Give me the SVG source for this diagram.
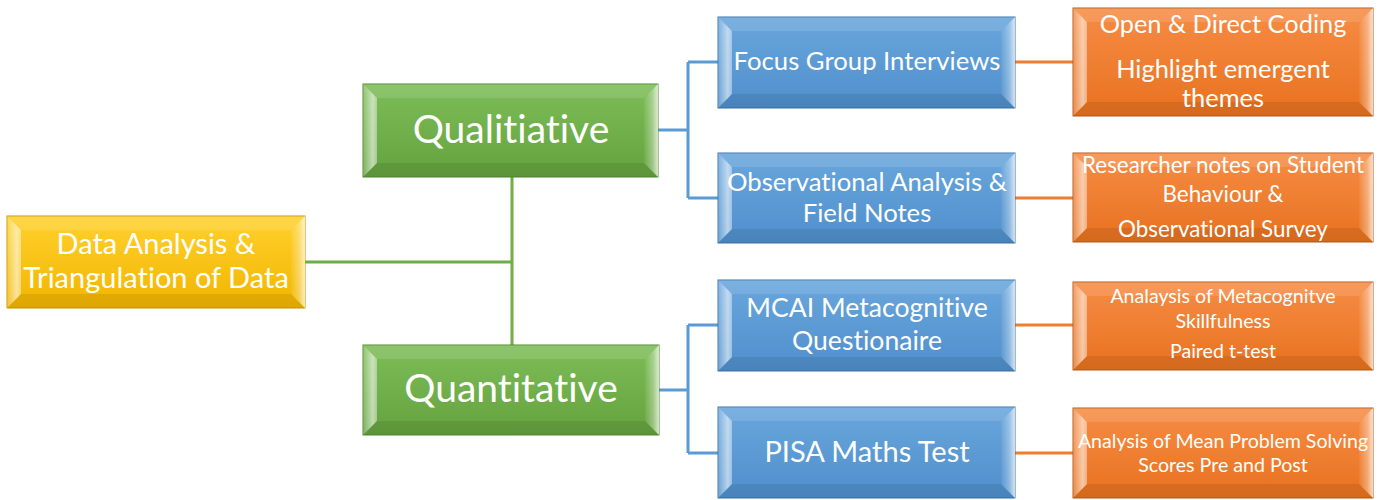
<svg xmlns="http://www.w3.org/2000/svg" width="1386" height="500" viewBox="0 0 1386 500">
  <defs>
    <linearGradient id="gYellow" x1="0" y1="0" x2="0" y2="1">
      <stop offset="0" stop-color="#ffd12e"/>
      <stop offset="1" stop-color="#f2b500"/>
    </linearGradient>
    <linearGradient id="gGreen" x1="0" y1="0" x2="0" y2="1">
      <stop offset="0" stop-color="#7dbd58"/>
      <stop offset="1" stop-color="#64a23e"/>
    </linearGradient>
    <linearGradient id="gBlue" x1="0" y1="0" x2="0" y2="1">
      <stop offset="0" stop-color="#69a6dc"/>
      <stop offset="1" stop-color="#4f8fcc"/>
    </linearGradient>
    <linearGradient id="gOrange" x1="0" y1="0" x2="0" y2="1">
      <stop offset="0" stop-color="#f68c45"/>
      <stop offset="1" stop-color="#e8721f"/>
    </linearGradient>
    <linearGradient id="bevLeft" x1="0" y1="0" x2="1" y2="0">
      <stop offset="0" stop-color="#fff" stop-opacity="0.15"/>
      <stop offset="0.7" stop-color="#fff" stop-opacity="0.6"/>
      <stop offset="1" stop-color="#fff" stop-opacity="0.4"/>
    </linearGradient>
    <linearGradient id="bevRight" x1="0" y1="0" x2="1" y2="0">
      <stop offset="0" stop-color="#fff" stop-opacity="0.05"/>
      <stop offset="0.6" stop-color="#fff" stop-opacity="0.35"/>
      <stop offset="1" stop-color="#fff" stop-opacity="0.75"/>
    </linearGradient>
  </defs>
  <style>
    .frame { stroke-width: 1; }
    .yellow { fill: url(#gYellow); stroke: #c99a00; }
    .green { fill: url(#gGreen); stroke: #4f8a2e; }
    .blue { fill: url(#gBlue); stroke: #3d74a8; }
    .orange { fill: url(#gOrange); stroke: #b85a1a; }
    .bt { fill: #fff; fill-opacity: 0.12; }
    .bb { fill: #000; fill-opacity: 0.08; }
    .bl { fill: url(#bevLeft); }
    .br { fill: url(#bevRight); }
    text { font-family: Lato, "Open Sans", sans-serif; fill: #fff; text-anchor: middle; font-variant-ligatures: none; }
    .conn { fill: none; stroke-width: 3; }
    .cg { stroke: #70ad47; }
    .cb { stroke: #5b9bd5; }
    .co { stroke: #ed7d31; }
  </style>

  <!-- connectors -->
  <g id="connectors">
    <path class="conn cg" d="M305 262 H512 M512 177 V345"/>
    <path class="conn cb" d="M658 130 H688 M688 62 V198 M688 62 H718 M688 198 H718"/>
    <path class="conn cb" d="M659 390 H688 M688 325 V453 M688 325 H718 M688 453 H718"/>
    <path class="conn co" d="M1015 62 H1073 M1015 198 H1073 M1015 325 H1073 M1015 453 H1073"/>
  </g>

  <!-- root -->
  <g id="data-analysis">
    <rect class="frame yellow" x="7" y="216" width="298" height="92"/>
    <polygon class="bt" points="7,216 305,216 291,230 21,230"/>
    <polygon class="bb" points="7,308 305,308 291,294 21,294"/>
    <polygon class="bl" points="7,216 21,230 21,294 7,308"/>
    <polygon class="br" points="305,216 291,230 291,294 305,308"/>
    <text x="156" y="254" font-size="29">Data Analysis &amp;</text>
    <text x="156" y="288" font-size="29">Triangulation of Data</text>
  </g>

  <g id="qualitative">
    <rect class="frame green" x="363" y="84" width="295" height="93"/>
    <polygon class="bt" points="363,84 658,84 644,98 377,98"/>
    <polygon class="bb" points="363,177 658,177 644,163 377,163"/>
    <polygon class="bl" points="363,84 377,98 377,163 363,177"/>
    <polygon class="br" points="658,84 644,98 644,163 658,177"/>
    <text x="511" y="143" font-size="39">Qualitiative</text>
  </g>

  <g id="quantitative">
    <rect class="frame green" x="363" y="345" width="296" height="90"/>
    <polygon class="bt" points="363,345 659,345 645,359 377,359"/>
    <polygon class="bb" points="363,435 659,435 645,421 377,421"/>
    <polygon class="bl" points="363,345 377,359 377,421 363,435"/>
    <polygon class="br" points="659,345 645,359 645,421 659,435"/>
    <text x="511" y="402" font-size="39">Quantitative</text>
  </g>

  <g id="focus-group">
    <rect class="frame blue" x="718" y="17" width="297" height="91"/>
    <polygon class="bt" points="718,17 1015,17 1001,31 732,31"/>
    <polygon class="bb" points="718,108 1015,108 1001,94 732,94"/>
    <polygon class="bl" points="718,17 732,31 732,94 718,108"/>
    <polygon class="br" points="1015,17 1001,31 1001,94 1015,108"/>
    <text x="867" y="70" font-size="25.7">Focus Group Interviews</text>
  </g>

  <g id="observational">
    <rect class="frame blue" x="718" y="153" width="297" height="90"/>
    <polygon class="bt" points="718,153 1015,153 1001,167 732,167"/>
    <polygon class="bb" points="718,243 1015,243 1001,229 732,229"/>
    <polygon class="bl" points="718,153 732,167 732,229 718,243"/>
    <polygon class="br" points="1015,153 1001,167 1001,229 1015,243"/>
    <text x="867" y="191" font-size="25.7">Observational Analysis &amp;</text>
    <text x="867" y="222" font-size="25.7">Field Notes</text>
  </g>

  <g id="mcai">
    <rect class="frame blue" x="718" y="280" width="297" height="91"/>
    <polygon class="bt" points="718,280 1015,280 1001,294 732,294"/>
    <polygon class="bb" points="718,371 1015,371 1001,357 732,357"/>
    <polygon class="bl" points="718,280 732,294 732,357 718,371"/>
    <polygon class="br" points="1015,280 1001,294 1001,357 1015,371"/>
    <text x="867" y="317" font-size="26.6">MCAI Metacognitive</text>
    <text x="867" y="350" font-size="26.6">Questionaire</text>
  </g>

  <g id="pisa">
    <rect class="frame blue" x="718" y="407" width="297" height="91"/>
    <polygon class="bt" points="718,407 1015,407 1001,421 732,421"/>
    <polygon class="bb" points="718,498 1015,498 1001,484 732,484"/>
    <polygon class="bl" points="718,407 732,421 732,484 718,498"/>
    <polygon class="br" points="1015,407 1001,421 1001,484 1015,498"/>
    <text x="867" y="462" font-size="29">PISA Maths Test</text>
  </g>

  <g id="coding">
    <rect class="frame orange" x="1073" y="8" width="300" height="108"/>
    <polygon class="bt" points="1073,8 1373,8 1359,22 1087,22"/>
    <polygon class="bb" points="1073,116 1373,116 1359,102 1087,102"/>
    <polygon class="bl" points="1073,8 1087,22 1087,102 1073,116"/>
    <polygon class="br" points="1373,8 1359,22 1359,102 1373,116"/>
    <text x="1223" y="33" font-size="25.4">Open &amp; Direct Coding</text>
    <text x="1223" y="78" font-size="25.4">Highlight emergent</text>
    <text x="1223" y="107" font-size="25.4">themes</text>
  </g>

  <g id="researcher-notes">
    <rect class="frame orange" x="1073" y="153" width="300" height="89"/>
    <polygon class="bt" points="1073,153 1373,153 1359,167 1087,167"/>
    <polygon class="bb" points="1073,242 1373,242 1359,228 1087,228"/>
    <polygon class="bl" points="1073,153 1087,167 1087,228 1073,242"/>
    <polygon class="br" points="1373,153 1359,167 1359,228 1373,242"/>
    <text x="1223" y="173" font-size="22.4">Researcher notes on Student</text>
    <text x="1223" y="202" font-size="22.4">Behaviour &amp;</text>
    <text x="1223" y="237" font-size="22.4">Observational Survey</text>
  </g>

  <g id="metacognitive-analysis">
    <rect class="frame orange" x="1073" y="282" width="300" height="88"/>
    <polygon class="bt" points="1073,282 1373,282 1359,296 1087,296"/>
    <polygon class="bb" points="1073,370 1373,370 1359,356 1087,356"/>
    <polygon class="bl" points="1073,282 1087,296 1087,356 1073,370"/>
    <polygon class="br" points="1373,282 1359,296 1359,356 1373,370"/>
    <text x="1223" y="303" font-size="19.6">Analaysis of Metacognitve</text>
    <text x="1223" y="328" font-size="19.6">Skillfulness</text>
    <text x="1223" y="358" font-size="19.6">Paired t-test</text>
  </g>

  <g id="mean-scores">
    <rect class="frame orange" x="1073" y="408" width="300" height="90"/>
    <polygon class="bt" points="1073,408 1373,408 1359,422 1087,422"/>
    <polygon class="bb" points="1073,498 1373,498 1359,484 1087,484"/>
    <polygon class="bl" points="1073,408 1087,422 1087,484 1073,498"/>
    <polygon class="br" points="1373,408 1359,422 1359,484 1373,498"/>
    <text x="1223" y="448" font-size="19.6">Analysis of Mean Problem Solving</text>
    <text x="1223" y="472" font-size="19.6">Scores Pre and Post</text>
  </g>
</svg>
